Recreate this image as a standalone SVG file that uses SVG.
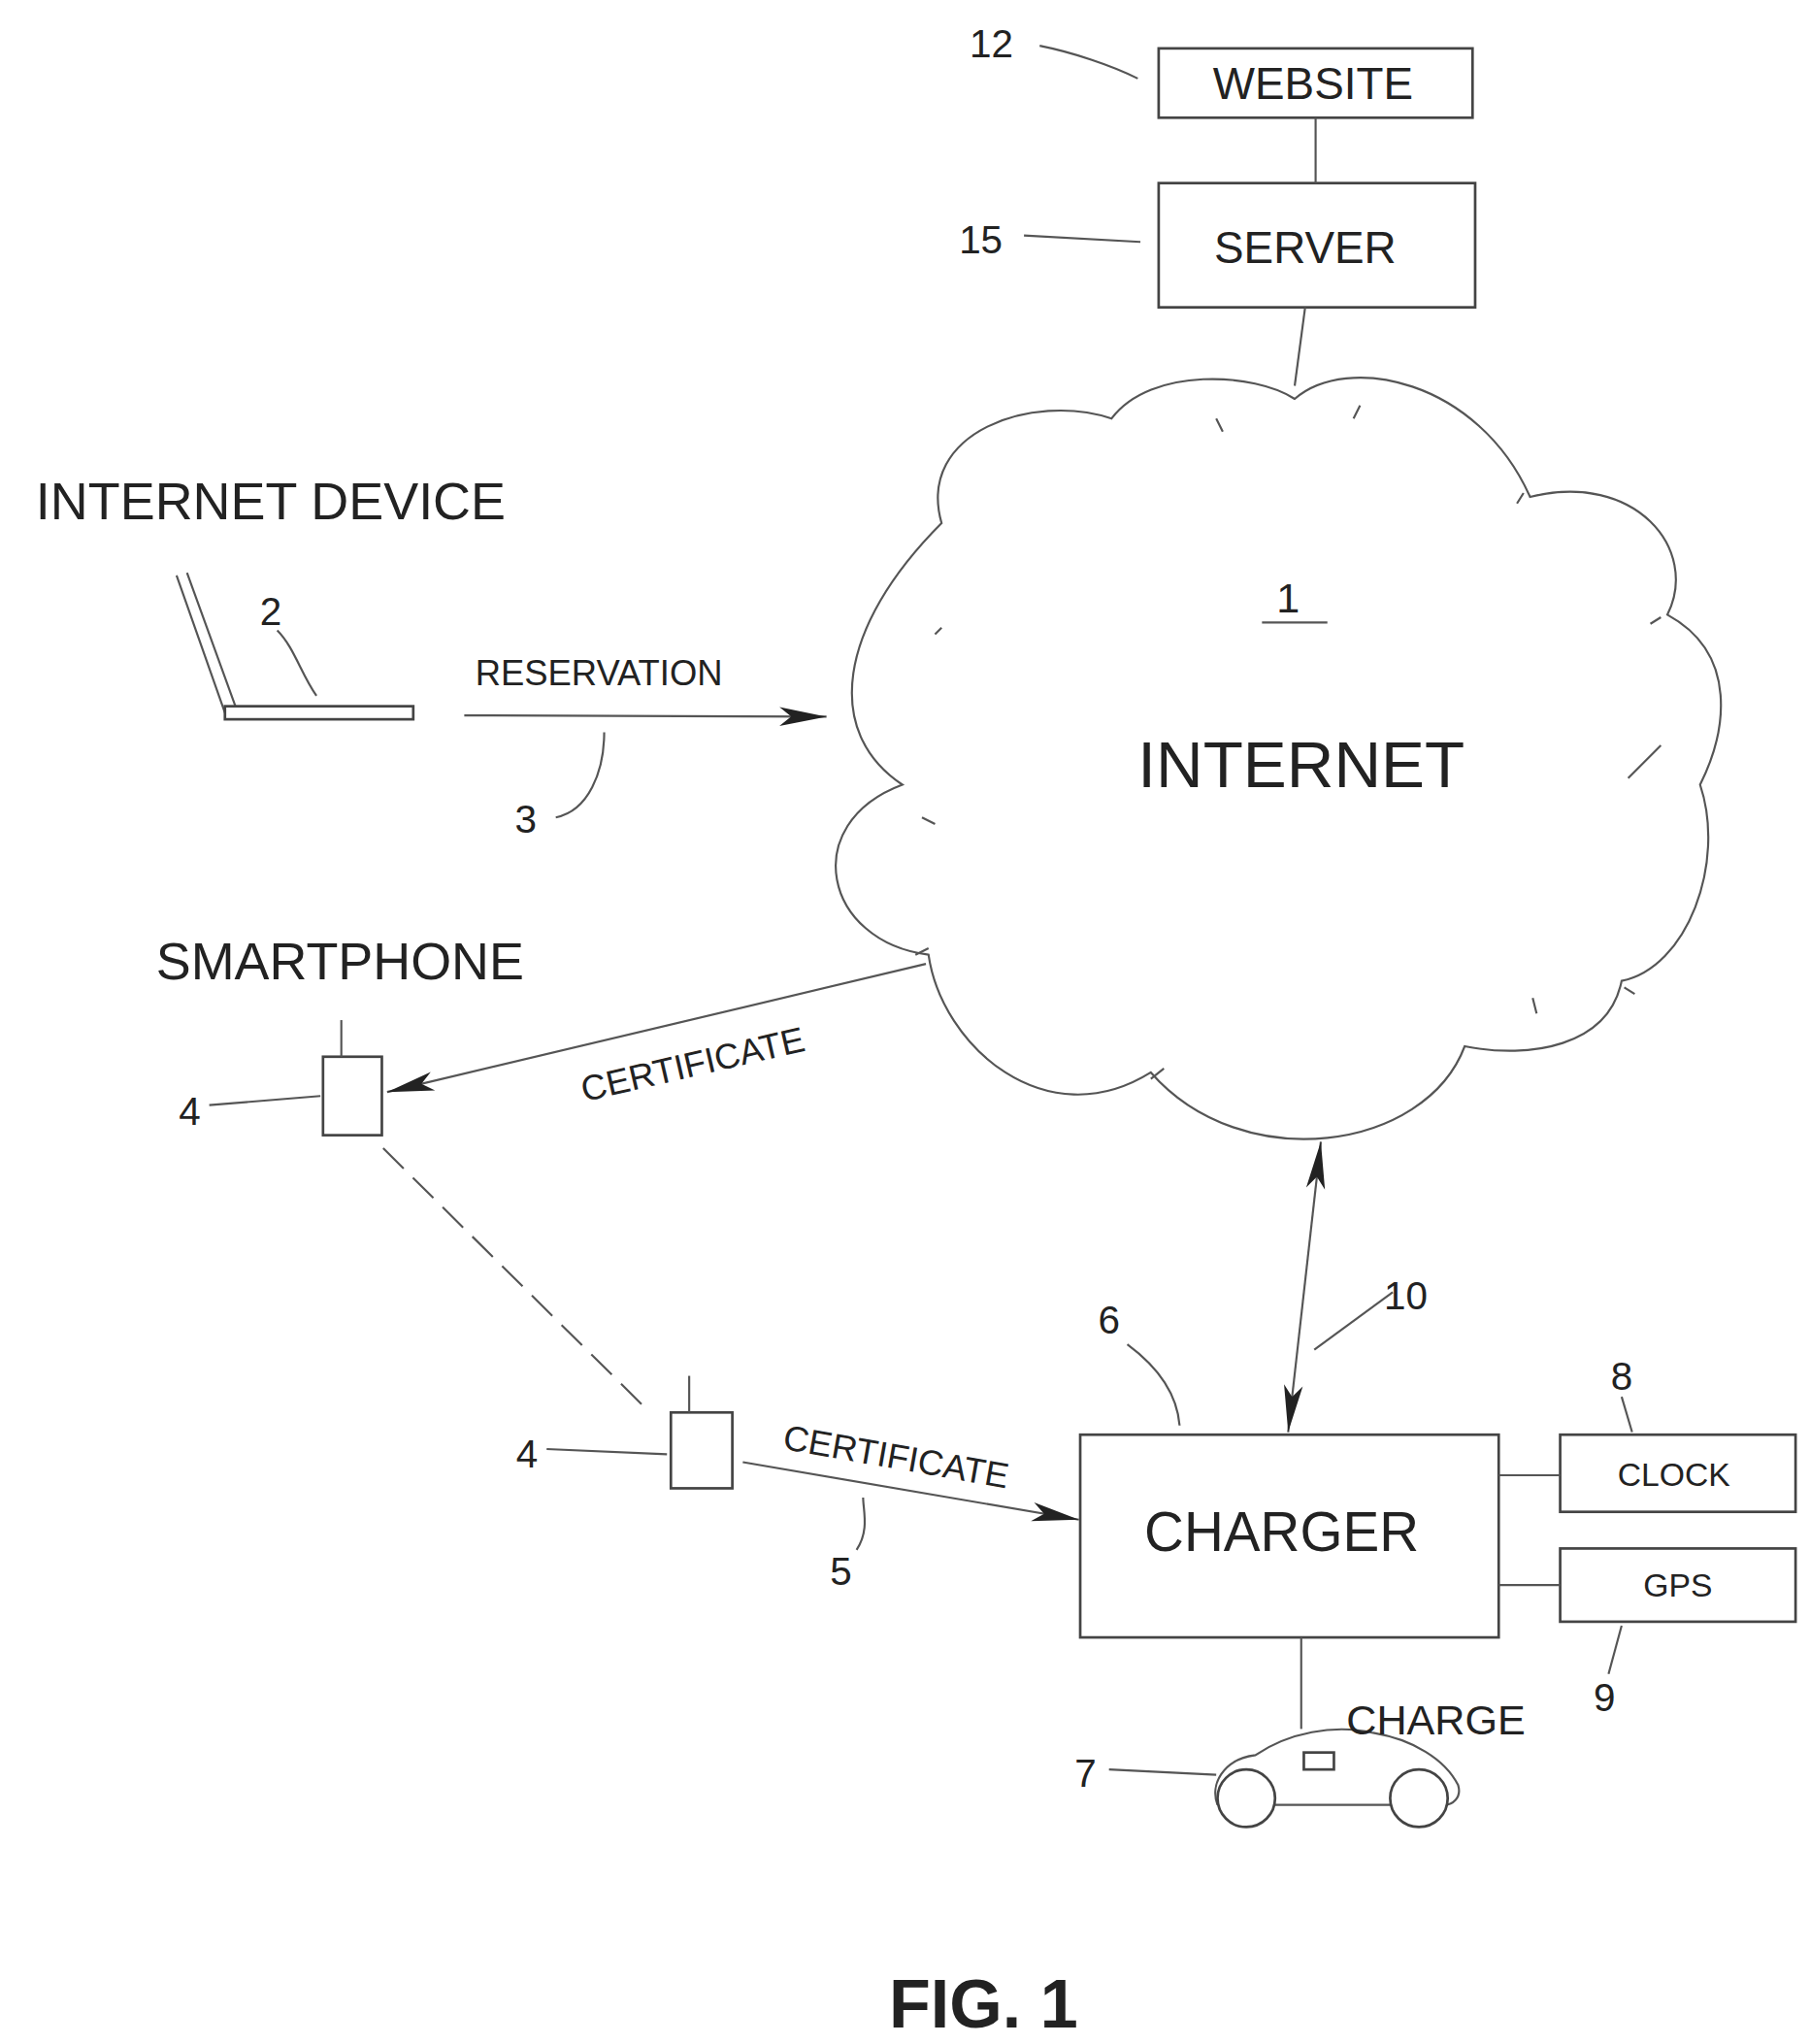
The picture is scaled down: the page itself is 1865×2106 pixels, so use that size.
<svg xmlns="http://www.w3.org/2000/svg" width="1865" height="2106" viewBox="0 0 1865 2106">
<style>
.t{font-family:"Liberation Sans",Arial,sans-serif;fill:#222;text-anchor:middle}
.b{fill:#fff;stroke:#444;stroke-width:2}
.l{fill:none;stroke:#555;stroke-width:1.6}
</style>
<defs>
<marker id="ah" viewBox="0 0 20 10" refX="20" refY="5" markerWidth="36" markerHeight="18" markerUnits="userSpaceOnUse" orient="auto-start-reverse"><path d="M0,1 L20,5 L0,9 L5,5Z" fill="#222"/></marker>
</defs>
<rect width="1865" height="2106" fill="#fff"/>
<g transform="scale(1.3475)">
<g id="website"><rect class="b" x="886" y="37" width="240" height="53"/><text class="t" x="1004" y="76" font-size="34">WEBSITE</text></g>
<g id="server"><rect class="b" x="886" y="140" width="242" height="95"/><text class="t" x="998" y="201" font-size="34">SERVER</text></g>
<g id="internet">
<path class="l" stroke-width="1.3" d="M720,400 C700,330 790,300 850,320 C880,280 960,285 990,305 C1030,270 1130,290 1170,380 C1250,360 1300,420 1275,470 C1330,500 1320,560 1300,600 C1320,660 1290,740 1240,750 C1230,800 1170,810 1120,800 C1090,880 950,900 880,820 C800,870 720,800 710,730 C630,720 610,630 690,600 C630,560 640,480 720,400Z"/>
<path class="l" stroke-width="1" d="M930,320 l5,10 M1040,310 l-5,10 M1160,385 l5,-8 M1270,472 l-8,5 M1245,595 l25,-25 M1250,760 l-8,-5 M1175,775 l-3,-12 M880,825 l10,-8 M700,730 l10,-5 M705,625 l10,5 M720,480 l-5,5"/>
<text class="t" x="985" y="468" font-size="32">1</text><line class="l" x1="965" y1="476" x2="1015" y2="476"/>
<text class="t" x="995" y="602" font-size="50">INTERNET</text>
</g>
<g id="device">
<text class="t" x="207" y="397" font-size="40">INTERNET DEVICE</text>
<path class="l" d="M135,440 L172,545 M143,438 L180,540"/><rect class="b" stroke-width="1.5" x="172" y="540" width="144" height="10"/>
<text class="t" x="207" y="478" font-size="30">2</text><path class="l" d="M212,482 C225,495 230,515 242,532"/>
</g>
<g id="phone1">
<text class="t" x="260" y="749" font-size="40">SMARTPHONE</text>
<rect class="b" stroke-width="1.5" x="247" y="808" width="45" height="60"/><line class="l" x1="261" y1="780" x2="261" y2="808"/>
<text class="t" x="145" y="860" font-size="30">4</text><path class="l" d="M160,845 L245,838"/>
</g>
<g id="phone2">
<rect class="b" stroke-width="1.5" x="513" y="1080" width="47" height="58"/><line class="l" x1="527" y1="1052" x2="527" y2="1080"/>
<text class="t" x="403" y="1122" font-size="30">4</text><path class="l" d="M418,1108 L510,1112"/>
</g>
<g id="charger">
<rect class="b" x="826" y="1097" width="320" height="155"/><text class="t" x="980" y="1186" font-size="42">CHARGER</text>
<text class="t" x="848" y="1020" font-size="30">6</text><path class="l" d="M862,1028 C885,1045 900,1065 902,1090"/>
</g>
<g id="clock"><rect class="b" stroke-width="1.5" x="1193" y="1097" width="180" height="59"/><text class="t" x="1280" y="1136" font-size="25">CLOCK</text>
<text class="t" x="1240" y="1063" font-size="30">8</text><path class="l" d="M1240,1068 L1248,1095"/></g>
<g id="gps"><rect class="b" stroke-width="1.5" x="1193" y="1184" width="180" height="56"/><text class="t" x="1283" y="1221" font-size="25">GPS</text>
<text class="t" x="1227" y="1308" font-size="30">9</text><path class="l" d="M1230,1280 L1240,1243"/></g>
<g id="car">
<path class="l" stroke-width="1.8" d="M931,1380 C925,1365 935,1345 960,1342 C985,1325 1020,1318 1050,1325 C1080,1330 1105,1345 1115,1365 C1118,1375 1110,1380 1105,1380 M975,1380 L1063,1380"/>
<circle class="b" stroke-width="1.8" cx="953" cy="1375" r="22"/><circle class="b" stroke-width="1.8" cx="1085" cy="1375" r="22"/>
<rect class="b" stroke-width="1.5" x="997" y="1340" width="23" height="13"/>
<text class="t" x="1098" y="1326" font-size="32">CHARGE</text>
<text class="t" x="830" y="1366" font-size="30">7</text><path class="l" d="M848,1353 L930,1357"/>
</g>
<g id="labels">
<text class="t" x="758" y="44" font-size="30">12</text>
<text class="t" x="750" y="194" font-size="30">15</text>
<text class="t" x="458" y="524" font-size="27">RESERVATION</text>
<text class="t" x="402" y="637" font-size="30">3</text>
<text class="t" x="530" y="823" font-size="27" transform="rotate(-13 530 815)">CERTIFICATE</text>
<text class="t" x="685" y="1123" font-size="27" transform="rotate(10 685 1115)">CERTIFICATE</text>
<text class="t" x="643" y="1212" font-size="30">5</text>
<text class="t" x="1075" y="1001" font-size="30">10</text>
<text class="t" x="752" y="1550" font-size="52" font-weight="bold">FIG. 1</text>
</g>
<g id="connectors">
<path class="l" d="M795,35 C820,40 850,50 870,60"/>
<path class="l" d="M783,180 L872,185"/>
<line class="l" x1="1006" y1="90" x2="1006" y2="140"/>
<line class="l" x1="998" y1="235" x2="990" y2="295"/>
<line class="l" x1="355" y1="547" x2="632" y2="548" marker-end="url(#ah)"/>
<path class="l" d="M425,625 C450,620 462,590 462,560"/>
<line class="l" x1="708" y1="737" x2="296" y2="835" marker-end="url(#ah)"/>
<line class="l" x1="293" y1="878" x2="497" y2="1080" stroke-dasharray="22,10"/>
<line class="l" x1="568" y1="1118" x2="825" y2="1162" marker-end="url(#ah)"/>
<path class="l" d="M655,1185 C665,1170 660,1155 660,1145"/>
<line class="l" stroke-width="2" x1="1010" y1="873" x2="985" y2="1095" marker-start="url(#ah)" marker-end="url(#ah)"/>
<path class="l" d="M1065,988 L1005,1032"/>
<line class="l" x1="1146" y1="1128" x2="1193" y2="1128"/>
<line class="l" x1="1146" y1="1212" x2="1193" y2="1212"/>
<line class="l" x1="995" y1="1252" x2="995" y2="1322"/>
</g>
</g>
</svg>
